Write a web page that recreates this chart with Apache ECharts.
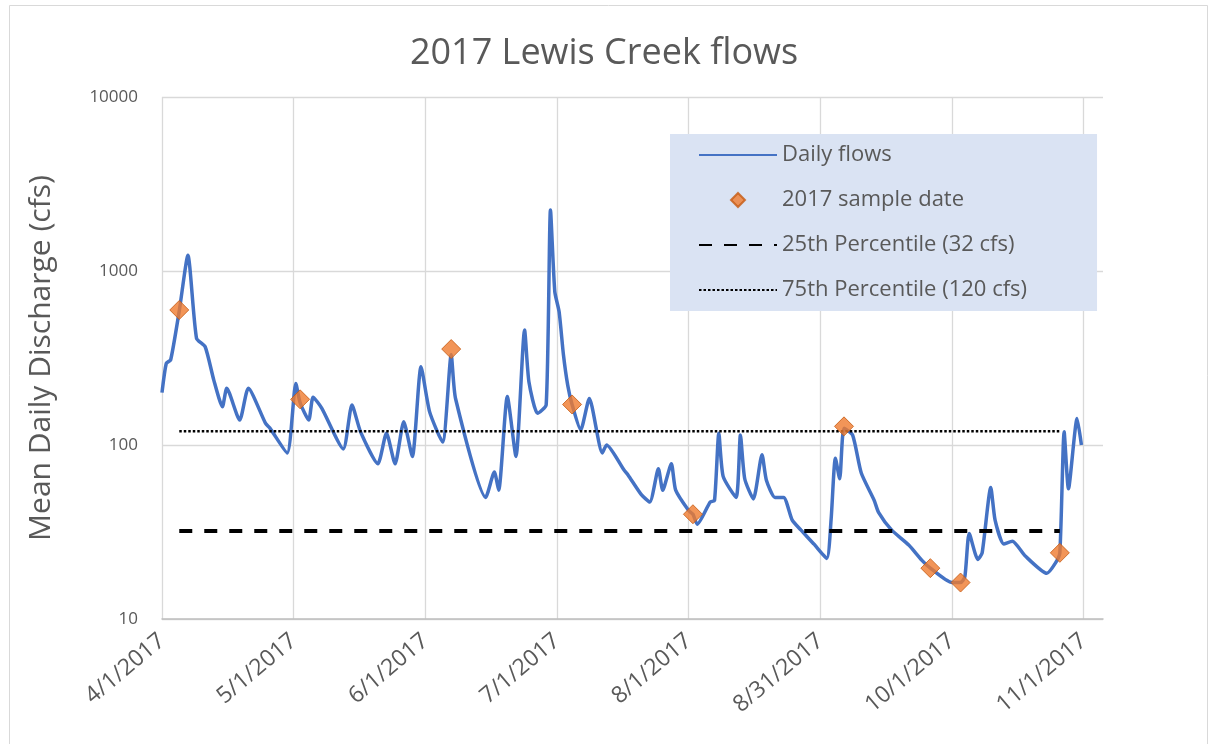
<!DOCTYPE html>
<html><head><meta charset="utf-8">
<script src="https://cdn.jsdelivr.net/npm/echarts@6/dist/echarts.min.js"></script>
<style>html,body{margin:0;padding:0;background:#fff}#c{width:1208px;height:744px}</style>
</head><body><div id="c"></div>
<script>
// X axis: days since 4/1/2017, ticks every 30.5 days
const tickLabels = ['4/1/2017','5/1/2017','6/1/2017','7/1/2017','8/1/2017','8/31/2017','10/1/2017','11/1/2017'];
const tickStep = 30.5;
const yTicks = [10, 100, 1000, 10000];

// Daily flows (day offset from 4/1/2017, cfs)
const flowDays = [0,1,2,4,6,8,10,12,14,15,18,20,24,25,29,31,32,34,35,37,42,44,46,50,52,54,56,58,60,62,65,67,68,75,77,78,80,82,84,85,87,89,90,91,92,93,94,95,97,99,102,103,107,108,111,113,115,116,118,119,122,123,124,127,128,129,130,133,134,135,137,139,140,142,144,146,148,151,154,155,156,157,158,160,162,165,166,169,173,176,178,183,185,186,187,189,190,192,193,195,197,200,205,207,208,209,210,212,213];
const flowValues = [200,295,308,590,1230,410,367,236,166,212,139,212,133,125,90,226,175,139,188,163,95,170,119,78,117,78,136,86,282,155,104,330,185,50,70,55,190,86,458,231,152,170,2240,760,583,330,220,171,122,185,90,100,72,67,52,47,73,55,78,55,42,40,35,47,48,117,66,50,114,64,49,88,63,50,50,37,32.5,27,22.3,37,84,64,125,114,69,48,41,32.5,26.6,21.8,19.6,16.2,16.2,17.5,31,22,24,57,37,27,28,23,18.3,21,24,119,56,142,100];

// Sample dates
const sampleDays = [4,32,67,95,123,158,178,185,208];
const sampleValues = [597,183,356,171,40,128,19.6,16.2,24];

// Percentile reference lines (span first to last sample date)
const pctDays = [4,208];
const p25Values = [32,32];
const p75Values = [120,120];

const pair = (xs, ys) => xs.map((x,i)=>[x, ys[i]]);
const FONT = 'Open Sans';
const GREY = '#595959';
const hideSym = { opacity: 0 };

const chart = echarts.init(document.getElementById('c'));
chart.setOption({
  animation: false,
  backgroundColor: '#ffffff',
  textStyle: { fontFamily: FONT },
  graphic: [{
    type: 'rect', left: 7, top: 3, silent: true,
    shape: { x: 0, y: 0, width: 1198, height: 760 },
    style: { fill: 'none', stroke: '#d9d9d9', lineWidth: 1 }
  }],
  title: {
    text: '2017 Lewis Creek flows',
    left: 'center', top: 31,
    textStyle: { fontFamily: FONT, fontSize: 36, fontWeight: 'normal', color: GREY }
  },
  grid: { left: 162, right: 105, top: 97, bottom: 125, containLabel: false },
  legend: {
    orient: 'vertical',
    left: 670, top: 134,
    backgroundColor: '#dae3f3',
    padding: [10, 70, 10, 28],
    itemGap: 23,
    itemWidth: 78, itemHeight: 14,
    symbolKeepAspect: true,
    textStyle: { fontFamily: FONT, fontSize: 22, color: GREY },
    data: [
      { name: 'Daily flows', itemStyle: hideSym },
      { name: '2017 sample date', icon: 'path://M7,0 L14,7 L7,14 L0,7 Z' },
      { name: '25th Percentile (32 cfs)', itemStyle: hideSym },
      { name: '75th Percentile (120 cfs)', itemStyle: hideSym }
    ]
  },
  xAxis: {
    type: 'value', min: 0, max: 218, interval: tickStep,
    axisLine: { show: true, lineStyle: { color: '#bfbfbf', width: 1.5 } },
    axisTick: { show: false },
    splitLine: { show: true, showMaxLine: false, lineStyle: { color: '#d9d9d9', width: 1.3 } },
    axisLabel: {
      rotate: 40, margin: 19, fontFamily: FONT, fontSize: 23, color: GREY,
      showMaxLabel: true,
      formatter: v => { const k = v / tickStep; return Math.abs(k - Math.round(k)) < 1e-6 && tickLabels[Math.round(k)] ? tickLabels[Math.round(k)] : ''; }
    }
  },
  yAxis: {
    type: 'log', logBase: 10, min: yTicks[0], max: yTicks[yTicks.length-1],
    name: 'Mean Daily Discharge (cfs)',
    nameLocation: 'middle', nameGap: 106, nameRotate: 90,
    nameTextStyle: { fontFamily: FONT, fontSize: 30, color: GREY },
    axisLine: { show: false },
    axisTick: { show: false },
    splitLine: { show: true, lineStyle: { color: '#d9d9d9', width: 1.3 } },
    axisLabel: { margin: 24, fontFamily: FONT, fontSize: 17, color: GREY, formatter: v => String(v) }
  },
  series: [
    {
      name: 'Daily flows', type: 'line', data: pair(flowDays, flowValues),
      symbol: 'none', smooth: 0.2, z: 3,
      lineStyle: { color: '#4472c4', width: 3.5 },
      itemStyle: { color: '#4472c4' }
    },
    {
      name: '25th Percentile (32 cfs)', type: 'line', data: pair(pctDays, p25Values),
      symbol: 'none', z: 4,
      lineStyle: { color: '#000000', width: 4, type: [13, 12] },
      itemStyle: { color: '#000000' }
    },
    {
      name: '75th Percentile (120 cfs)', type: 'line', data: pair(pctDays, p75Values),
      symbol: 'none', z: 4,
      lineStyle: { color: '#000000', width: 2.5, type: [2.5, 2] },
      itemStyle: { color: '#000000' }
    },
    {
      name: '2017 sample date', type: 'scatter', data: pair(sampleDays, sampleValues),
      symbol: 'diamond', symbolSize: 19, z: 5,
      itemStyle: { color: '#ef7a2e', borderColor: '#c55a11', borderWidth: 1 }
    }
  ]
});
</script></body></html>
